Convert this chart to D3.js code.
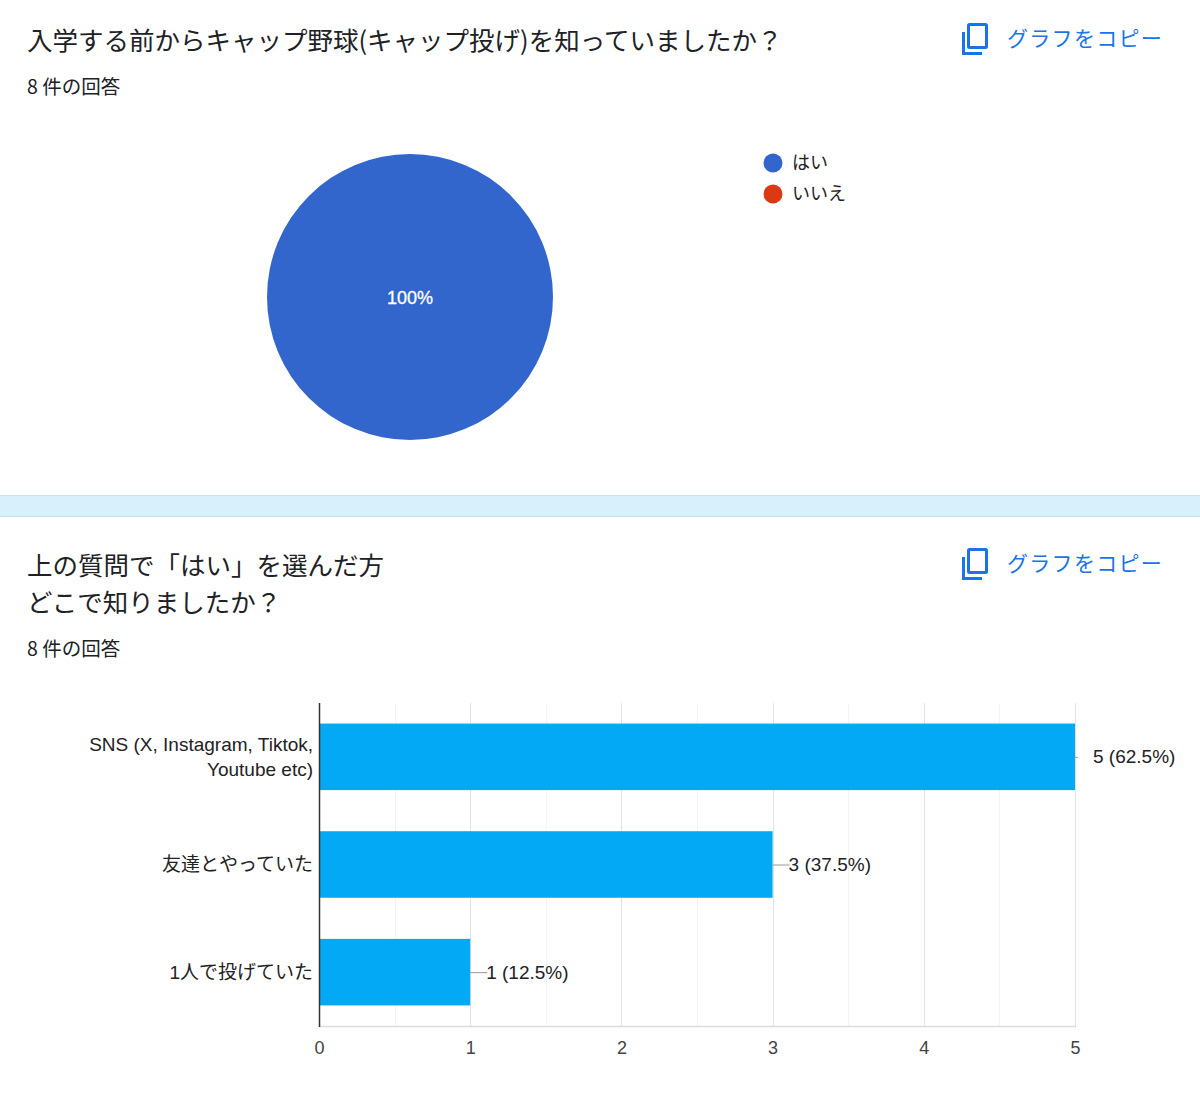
<!DOCTYPE html>
<html>
<head>
<meta charset="utf-8">
<script src="https://cdn.jsdelivr.net/npm/d3@7"></script>
<style>
  body { margin: 0; background: #fff; }
  svg { display: block; }
</style>
</head>
<body>
<div id="chart"></div>
<script>
// data
var pieLabels = ["はい", "いいえ"];
var pieValues = [8, 0];
var pieColors = ["#3366cc", "#dc3912"];

var barCategories = [["SNS (X, Instagram, Tiktok,", "Youtube etc)"], ["友達とやっていた"], ["1人で投げていた"]];
var barValues = [5, 3, 1];
var barLabels = ["5 (62.5%)", "3 (37.5%)", "1 (12.5%)"];
var xTicks = [0, 1, 2, 3, 4, 5];

var titles1 = ["入学する前からキャップ野球(キャップ投げ)を知っていましたか？"];
var titles2 = ["上の質問で「はい」を選んだ方", "どこで知りましたか？"];
var responses = "8 件の回答";
var copyText = "グラフをコピー";

var W = 1200, H = 1097;
var jp = "'Noto Sans CJK JP', 'Noto Sans', sans-serif";
var lat = "'Liberation Sans', Arial, 'Noto Sans CJK JP', sans-serif";

var svg = d3.select("#chart").append("svg")
  .attr("width", W).attr("height", H);

// separator band between the two cards
svg.append("rect").attr("x", 0).attr("y", 495).attr("width", W).attr("height", 22)
  .attr("fill", "#d8f0fb");
svg.append("line").attr("x1", 0).attr("x2", W).attr("y1", 495.5).attr("y2", 495.5)
  .attr("stroke", "#d3dfe6");
svg.append("line").attr("x1", 0).attr("x2", W).attr("y1", 516.5).attr("y2", 516.5)
  .attr("stroke", "#d3dfe6");

function header(lines, y0) {
  var g = svg.append("g");
  lines.forEach(function(t, i) {
    g.append("text").attr("x", 27).attr("y", y0 + i * 37)
      .attr("font-family", jp).attr("font-size", 25.5).attr("fill", "#202124")
      .text(t);
  });
  g.append("text").attr("x", 27).attr("y", y0 + (lines.length - 1) * 37 + 44)
    .attr("font-family", jp).attr("font-size", 19.5).attr("fill", "#202124")
    .text(responses);

  // copy icon + link
  var iy = y0 - 27;
  var ic = g.append("g").attr("fill", "none").attr("stroke", "#1a73e8").attr("stroke-width", 3);
  ic.append("rect").attr("x", 968.5).attr("y", iy + 1.5).attr("width", 18).attr("height", 23).attr("rx", 1);
  ic.append("path").attr("d", "M963.5," + (iy + 9) + "V" + (iy + 30.5) + "H982");
  g.append("text").attr("x", 1007).attr("y", y0 - 4)
    .attr("font-family", jp).attr("font-size", 21).attr("fill", "#1a73e8")
    .attr("letter-spacing", 1.3)
    .text(copyText);
}

header(titles1, 50);
header(titles2, 575);

// ---- pie chart ----
var pie = d3.pie().sort(null)(pieValues);
var arc = d3.arc().innerRadius(0).outerRadius(143);
var pg = svg.append("g").attr("transform", "translate(410,297)");
pg.selectAll("path").data(pie).enter().append("path")
  .attr("d", arc)
  .attr("fill", function(d, i) { return pieColors[i]; });
var total = d3.sum(pieValues);
pg.selectAll("text.pct").data(pie.filter(function(d) { return d.value > 0; })).enter()
  .append("text")
  .attr("class", "pct")
  .attr("transform", function(d) {
    return d.endAngle - d.startAngle >= 2 * Math.PI - 1e-6 ? "translate(0,1)" : "translate(" + arc.centroid(d) + ")";
  })
  .attr("dy", "0.35em").attr("text-anchor", "middle")
  .attr("font-family", lat).attr("font-size", 18).attr("fill", "#fff")
  .attr("stroke", "#fff").attr("stroke-width", 0.3)
  .text(function(d) { return Math.round(d.value / total * 100) + "%"; });

var lg = svg.append("g");
pieLabels.forEach(function(l, i) {
  lg.append("circle").attr("cx", 773).attr("cy", 163 + i * 31).attr("r", 9.5)
    .attr("fill", pieColors[i]);
  lg.append("text").attr("x", 792).attr("y", 163 + i * 31).attr("dy", "0.35em")
    .attr("font-family", jp).attr("font-size", 18).attr("fill", "#222")
    .text(l);
});

// ---- bar chart ----
var pLeft = 319, pRight = 1075, pTop = 703, pBottom = 1026;
var x = d3.scaleLinear().domain([0, 5]).range([pLeft, pRight]);
var y = d3.scaleBand().domain(d3.range(barValues.length))
  .range([pTop, pBottom]).paddingInner(0.382).paddingOuter(0.191);

var bg = svg.append("g");
// minor gridlines
bg.selectAll("line.minor").data(d3.range(0.5, 5, 1)).enter().append("line")
  .attr("class", "minor")
  .attr("x1", function(d) { return Math.round(x(d)) + 0.5; })
  .attr("x2", function(d) { return Math.round(x(d)) + 0.5; })
  .attr("y1", pTop).attr("y2", pBottom)
  .attr("stroke", "#f4f4f4");
// major gridlines
bg.selectAll("line.major").data(xTicks.slice(1)).enter().append("line")
  .attr("class", "major")
  .attr("x1", function(d) { return Math.round(x(d)) + 0.5; })
  .attr("x2", function(d) { return Math.round(x(d)) + 0.5; })
  .attr("y1", pTop).attr("y2", pBottom)
  .attr("stroke", "#e2e2e2");
bg.append("line").attr("x1", pLeft).attr("x2", pRight + 1).attr("y1", pBottom + 0.5).attr("y2", pBottom + 0.5)
  .attr("stroke", "#dcdcdc").attr("stroke-width", 1.5);

// bars
bg.selectAll("rect.bar").data(barValues).enter().append("rect")
  .attr("class", "bar")
  .attr("x", x(0))
  .attr("y", function(d, i) { return y(i); })
  .attr("width", function(d) { return x(d) - x(0); })
  .attr("height", y.bandwidth())
  .attr("fill", "#03a9f4");

// left axis line
bg.append("line").attr("x1", pLeft + 0.5).attr("x2", pLeft + 0.5).attr("y1", pTop).attr("y2", pBottom + 1)
  .attr("stroke", "#333").attr("stroke-width", 1.5);

// value labels with leader lines
barValues.forEach(function(v, i) {
  var cy = y(i) + y.bandwidth() / 2;
  var xe = x(v);
  var isMax = v === d3.max(barValues);
  bg.append("line").attr("x1", xe).attr("x2", xe + (isMax ? 3 : 17)).attr("y1", cy + 0.5).attr("y2", cy + 0.5)
    .attr("stroke", "#999");
  bg.append("text").attr("x", xe + (isMax ? 18 : 16)).attr("y", cy).attr("dy", "0.35em")
    .attr("font-family", lat).attr("font-size", 19).attr("fill", "#222")
    .text(barLabels[i]);
});

// category labels
barCategories.forEach(function(lines, i) {
  var cy = y(i) + y.bandwidth() / 2;
  var t = bg.append("text").attr("text-anchor", "end")
    .attr("font-family", lat).attr("font-size", 19).attr("fill", "#222");
  lines.forEach(function(l, j) {
    t.append("tspan").attr("x", 313)
      .attr("y", cy + (j - (lines.length - 1) / 2) * 25)
      .attr("dy", "0.35em").text(l);
  });
});

// x axis tick labels
var xa = svg.append("g").attr("transform", "translate(0," + (pBottom + 11) + ")")
  .call(d3.axisBottom(x).tickValues(xTicks).tickSize(0).tickPadding(4).tickFormat(d3.format("d")));
xa.select(".domain").remove();
xa.selectAll("text").attr("font-family", lat).attr("font-size", 18).attr("fill", "#444");
</script>
</body>
</html>
